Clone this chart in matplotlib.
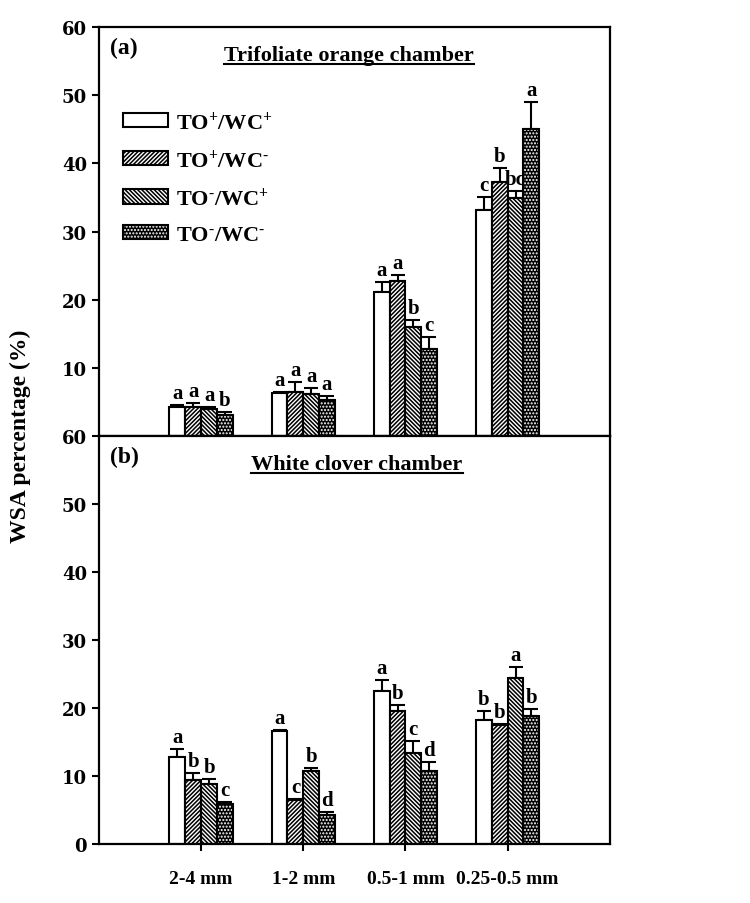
import numpy as np
import matplotlib.pyplot as plt
from matplotlib.lines import Line2D

# === STYLE ===
plt.rcParams['font.family'] = 'Liberation Serif'
plt.rcParams['font.weight'] = 'bold'
plt.rcParams['mathtext.fontset'] = 'custom'
plt.rcParams['mathtext.rm'] = 'Liberation Serif:bold'
plt.rcParams['mathtext.bf'] = 'Liberation Serif:bold'
plt.rcParams['mathtext.it'] = 'Liberation Serif:bold'
plt.rcParams['mathtext.default'] = 'rm'
plt.rcParams['hatch.linewidth'] = 1.0

# === DATA ===
sizes = ["2-4 mm", "1-2 mm", "0.5-1 mm", "0.25-0.5 mm"]
treatments = ["TO$^{+}$/WC$^{+}$", "TO$^{+}$/WC$^{\u2010}$",
              "TO$^{\u2010}$/WC$^{+}$", "TO$^{\u2010}$/WC$^{\u2010}$"]

# (a) Trifoliate orange chamber
to_ppp = [4.3, 6.3, 21.1, 33.1]
to_pm = [4.2, 6.4, 22.8, 37.3]
to_mp = [4.0, 6.2, 16.0, 34.9]
to_mm = [3.1, 5.3, 12.8, 45.0]
to_err_ppp = [0.2, 0.2, 1.5, 1.9]
to_err_pm = [0.6, 1.5, 0.8, 2.0]
to_err_mp = [0.2, 0.9, 1.0, 1.1]
to_err_mm = [0.4, 0.6, 1.7, 4.0]
to_letters = [["a", "a", "a", "b"], ["a", "a", "a", "a"],
              ["a", "a", "b", "c"], ["c", "b", "bc", "a"]]

# (b) White clover chamber
wc_ppp = [12.8, 16.6, 22.5, 18.2]
wc_pm = [9.4, 6.5, 19.5, 17.5]
wc_mp = [8.8, 10.7, 13.4, 24.4]
wc_mm = [5.9, 4.3, 10.7, 18.8]
wc_err_ppp = [1.1, 0.1, 1.6, 1.4]
wc_err_pm = [1.0, 0.1, 1.0, 0.2]
wc_err_mp = [0.7, 0.4, 1.7, 1.6]
wc_err_mm = [0.2, 0.4, 1.3, 1.0]
wc_letters = [["a", "b", "b", "c"], ["a", "c", "b", "d"],
              ["a", "b", "c", "d"], ["b", "b", "a", "b"]]

hatches = [None, "////////", "\\\\\\\\\\\\\\\\", "....."]
bar_w = 0.155


def draw_panel(ax, series, errors, letters):
    x = np.arange(1, len(sizes) + 1)
    handles = []
    for i, (vals, errs) in enumerate(zip(series, errors)):
        xi = x + (i - 1.5) * bar_w
        if hatches[i] is None:
            fill = ax.bar(xi, vals, bar_w, color="white", edgecolor="black",
                          linewidth=1.5, zorder=2)
            handles.append(fill[0])
        else:
            fill = ax.bar(xi, vals, bar_w, color="black", edgecolor="white",
                          hatch=hatches[i], linewidth=0, zorder=2)
            edge = ax.bar(xi, vals, bar_w, fill=False, edgecolor="black",
                          linewidth=1.5, zorder=3)
            handles.append((fill[0], edge[0]))
        ax.errorbar(xi, vals, yerr=[np.zeros(len(vals)), errs], fmt="none",
                    ecolor="black", elinewidth=1.5, capsize=5, capthick=1.5,
                    zorder=1)
        for j in range(len(vals)):
            ax.text(xi[j], vals[j] + errs[j] + 0.3, letters[j][i],
                    ha="center", va="bottom", fontsize=15, fontweight="bold")
    ax.set_xlim(0, 5)
    ax.set_ylim(0, 60)
    ax.set_xticks(x)
    for s in ax.spines.values():
        s.set_linewidth(1.6)
    ax.tick_params(axis="y", direction="out", length=5, width=1.5,
                   labelsize=13)
    ax.tick_params(axis="x", direction="out", length=5, width=1.5,
                   labelsize=14)
    for lab in ax.get_yticklabels():
        lab.set_fontfamily("DejaVu Serif")
        lab.set_fontweight("bold")
    return handles


fig = plt.figure(figsize=(7.5, 9.04), dpi=100)
ax1 = fig.add_axes([0.132, 0.5166, 0.681, 0.4524])
ax2 = fig.add_axes([0.132, 0.0653, 0.681, 0.4513])

ax1.set_yticks([10, 20, 30, 40, 50, 60])
ax2.set_yticks([0, 10, 20, 30, 40, 50, 60])

h = draw_panel(ax1, [to_ppp, to_pm, to_mp, to_mm],
               [to_err_ppp, to_err_pm, to_err_mp, to_err_mm], to_letters)
ax1.tick_params(axis="x", bottom=False, labelbottom=False)

draw_panel(ax2, [wc_ppp, wc_pm, wc_mp, wc_mm],
           [wc_err_ppp, wc_err_pm, wc_err_mp, wc_err_mm], wc_letters)
ax2.set_xticklabels(sizes)
ax2.tick_params(axis="x", pad=14)

ax1.text(0.022, 0.975, "(a)", transform=ax1.transAxes, ha="left", va="top",
         fontsize=17, fontweight="bold")
ax2.text(0.022, 0.975, "(b)", transform=ax2.transAxes, ha="left", va="top",
         fontsize=17, fontweight="bold")
t1 = ax1.text(0.49, 0.955, "Trifoliate orange chamber", transform=ax1.transAxes,
              ha="center", va="top", fontsize=16, fontweight="bold")
t2 = ax2.text(0.505, 0.955, "White clover chamber", transform=ax2.transAxes,
              ha="center", va="top", fontsize=16, fontweight="bold")

ax1.legend(h, treatments, loc="upper left", bbox_to_anchor=(0.008, 0.845),
           frameon=False, fontsize=16, handlelength=2.0, handleheight=0.6,
           labelspacing=0.7, handletextpad=0.4)

fig.text(0.027, 0.517, "WSA percentage (%)", rotation=90, ha="center",
         va="center", fontsize=17, fontweight="bold")

# underline the chamber titles
fig.canvas.draw()
inv = fig.transFigure.inverted()
for t in (t1, t2):
    bb = t.get_window_extent()
    (x0, y0), (x1, y1) = inv.transform([(bb.x0, bb.y0), (bb.x1, bb.y1)])
    fig.add_artist(Line2D([x0, x1], [y0 + 0.002, y0 + 0.002], color="black",
                          linewidth=1.5, transform=fig.transFigure))

fig.savefig("out.png", dpi=100)
